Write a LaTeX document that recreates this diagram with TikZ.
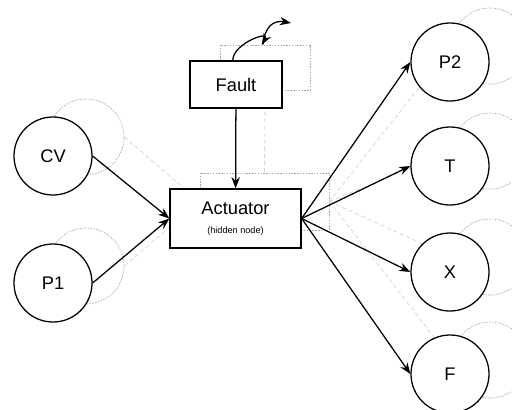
\documentclass[tikz,border=0pt]{standalone}
\usepackage{fontspec}
\setmainfont{Liberation Sans}
\usetikzlibrary{arrows.meta}

\tikzset{
    var/.style={circle, draw, line width=0.9pt, fill=white, minimum size=1.95cm, inner sep=0pt, font=\fontsize{13}{15}\selectfont},
    ghostvar/.style={circle, draw=black!35, line width=0.5pt, dash pattern=on 1pt off 1pt, minimum size=1.9cm, inner sep=0pt},
    box/.style={rectangle, draw, line width=0.9pt, fill=white, inner sep=0pt, font=\fontsize{13}{15}\selectfont},
    ghostbox/.style={rectangle, draw=black!35, line width=0.5pt, dash pattern=on 1pt off 1pt, inner sep=0pt},
    arr/.style={line width=0.9pt, -{Stealth[length=2.8mm,width=2.1mm]}},
    ghostline/.style={draw=black!15, line width=0.6pt, dash pattern=on 3pt off 2pt}
}

\begin{document}
\begin{tikzpicture}[x=0.025cm, y=-0.025cm]
        \useasboundingbox (0,0) rectangle (512,409);

        % Next time slice (faint)
        \node[ghostvar] (gcv) at (86,137) {};
        \node[ghostvar] (gpone) at (86,266) {};
        \node[ghostvar] (gptwo) at (490,46) {};
        \node[ghostvar] (gtemp) at (490,151) {};
        \node[ghostvar] (gxx) at (490,257) {};
        \node[ghostvar] (gflow) at (490,360) {};
        \node[ghostbox, minimum width=2.25cm, minimum height=1.125cm] (gfault) at (265,67.5) {};
        \node[ghostbox, minimum width=3.225cm, minimum height=1.425cm] (gact) at (264.5,201.5) {};

        \draw[ghostline] (gcv.east) -- (gact.west);
        \draw[ghostline] (gpone.east) -- (gact.west);
        \draw[ghostline] (gfault.south) -- (gact.north);
        \draw[ghostline] (gact.east) -- (gptwo.west);
        \draw[ghostline] (gact.east) -- (gtemp.west);
        \draw[ghostline] (gact.east) -- (gxx.west);
        \draw[ghostline] (gact.east) -- (gflow.west);

        % Inputs
        \node[var] (cv) at (53,156) {CV};
        \node[var] (pone) at (53,283) {P1};

        % Fault and hidden actuator
        \node[box, minimum width=2.3cm, minimum height=1.175cm] (fault) at (236,84.5) {Fault};
        \node[box, minimum width=3.275cm, minimum height=1.475cm, align=center] (act) at (235.5,218.5)
            {Actuator\\[-1pt]{\fontsize{6.5}{7}\selectfont (hidden node)}};

        % Outputs
        \node[var] (ptwo) at (450,62) {P2};
        \node[var] (temp) at (450,166) {T};
        \node[var] (xx) at (450,272) {X};
        \node[var] (flow) at (450,374) {F};

        % Links
        \draw[arr] (cv.east) -- (act.west);
        \draw[arr] (pone.east) -- (act.west);
        \draw[arr] (fault) -- (act);
        \draw[arr] (act.east) -- (ptwo.west);
        \draw[arr] (act.east) -- (temp.west);
        \draw[arr] (act.east) -- (xx.west);
        \draw[arr] (act.east) -- (flow.west);

        % Fault carried over in time
        \coordinate (nextfault) at (291,23);
        \draw[arr] ([xshift=-0.08cm]fault.north) to[out=90, in=60, looseness=1.3] ([xshift=-0.08cm]gfault.north);
        \draw[arr] ([xshift=-0.05cm]gfault.north) to[out=85, in=170, looseness=1.3] (nextfault);
    \end{tikzpicture}
\end{document}
